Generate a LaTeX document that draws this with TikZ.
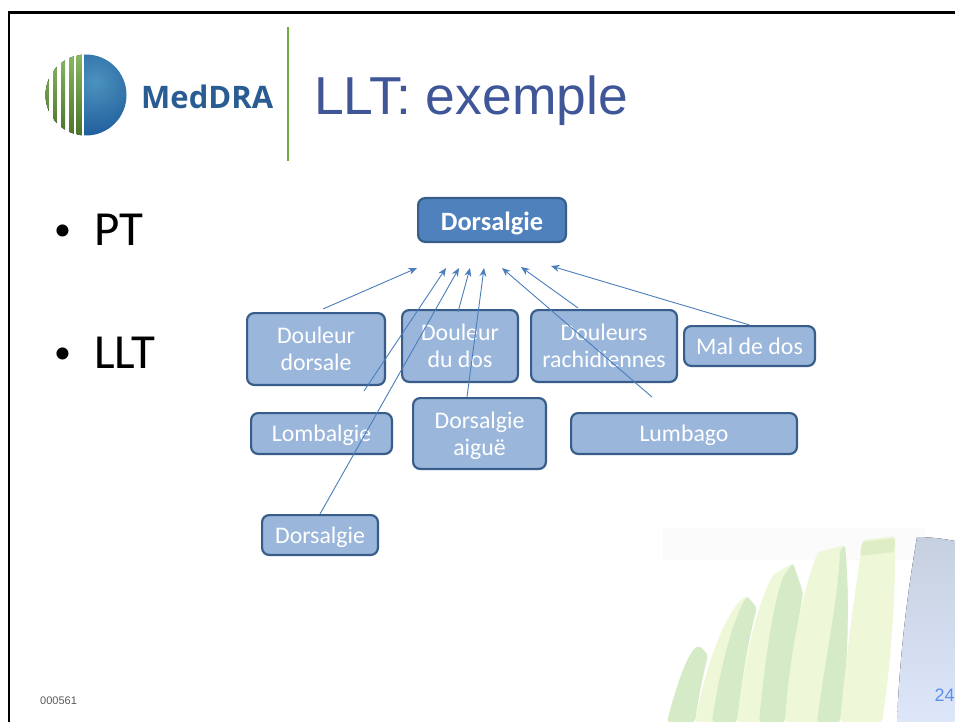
\documentclass[tikz,border=0pt]{standalone}
\usepackage{fontspec}
\setmainfont{Carlito}
\newfontfamily\arialf{Liberation Sans}
\newfontfamily\logof{Open Sans}
\usetikzlibrary{arrows.meta}
\definecolor{boxlight}{HTML}{9AB6DB}
\definecolor{boxdark}{HTML}{4F81BD}
\definecolor{boxline}{HTML}{385D8A}
\definecolor{arrowc}{HTML}{4A7EBB}
\definecolor{stripeA}{HTML}{EEF8D8}
\definecolor{stripeB}{HTML}{D5EBC8}
\definecolor{stripeC}{HTML}{DFEDC4}
\definecolor{titleblue}{HTML}{3F5699}
\definecolor{logogreen}{HTML}{6FAB3E}
\definecolor{logotextc}{HTML}{2A5C94}
\definecolor{numblue}{HTML}{5B8FF0}
\definecolor{panelTop}{HTML}{C6D0E0}
\definecolor{panelBot}{HTML}{DEE6FA}
\definecolor{orbIn}{HTML}{4C92BE}
\definecolor{orbOut}{HTML}{1D5A9A}
\tikzset{
  termbox/.style={draw=boxline,line width=2.2pt,fill=boxlight,rounded corners=7pt,text=white,
    inner sep=0pt,align=center,font=\fontsize{23.8}{27}\selectfont,anchor=center},
  headbox/.style={termbox,fill=boxdark,font=\fontsize{26.4}{29}\selectfont\bfseries},
  link/.style={draw=arrowc,line width=0.9pt,-{Stealth[length=8.5pt,width=7pt]}},
  bigword/.style={font=\fontsize{49}{52}\selectfont,anchor=base west,inner sep=0pt},
  dot/.style={font=\fontsize{34}{36}\selectfont,anchor=base west,inner sep=0pt}
}
\newcommand{\tbox}[6]{\node[#1,minimum width=#4pt-#2pt-2.2pt,minimum height=#5pt-#3pt-2.2pt,text depth=0pt] at ({(#2+#4)/2},{(#3+#5)/2}) #6;}
\begin{document}
\begin{tikzpicture}[x=1pt,y=-1pt]
\useasboundingbox (0,0) rectangle (955,722);
\fill[white] (0,0) rectangle (955,722);
% background decoration
\fill[white!98.5!black] (663,528) rectangle (925,560);
\begin{scope}[rounded corners=3pt]
\clip (0,0) rectangle (955,722);
\fill[stripeB] (667,722) .. controls (675,690) and (688,650) .. (700,646) -- (708,655) .. controls (702,680) and (698,700) .. (695,722) -- cycle;
\fill[stripeA] (695,722) .. controls (705,670) and (725,610) .. (747,596) -- (757,608) .. controls (748,640) and (742,680) .. (737,722) -- cycle;
\fill[stripeB] (712,722) .. controls (718,680) and (730,625) .. (747,596) -- (757,608) .. controls (748,640) and (742,680) .. (737,722) -- cycle;
\fill[stripeA] (737,722) .. controls (745,660) and (755,610) .. (773,575) -- (793,563) -- (803,593) .. controls (795,640) and (790,680) .. (785,722) -- cycle;
\fill[stripeB] (759,722) .. controls (765,660) and (772,610) .. (783,577) -- (793,563) -- (803,593) .. controls (795,640) and (790,680) .. (785,722) -- cycle;
\fill[stripeA] (785,722) .. controls (790,650) and (803,590) .. (818,552) -- (845,545) .. controls (850,600) and (848,670) .. (840,722) -- cycle;
\fill[stripeB] (817,722) .. controls (825,660) and (838,600) .. (840,550) -- (845,545) .. controls (850,600) and (848,670) .. (840,722) -- cycle;
\fill[stripeA] (840,722) .. controls (847,650) and (855,590) .. (863,540) -- (895,536) .. controls (896,600) and (890,670) .. (882,722) -- cycle;
\fill[stripeC] (862,542) -- (895,538) -- (894.5,552) -- (860,556) -- cycle;
\end{scope}
\fill[top color=panelTop,bottom color=panelBot] (897,722) .. controls (900,650) and (908,590) .. (917,537) .. controls (930,537) and (945,539) .. (955,541) -- (955,722) -- cycle;
% frame
\draw[black,line width=2.6pt] (960,12.5) -- (9,12.5) -- (9,730);
% logo
\begin{scope}
\clip (86,95) circle[radius=40.5];
\begin{scope}
\clip (84,50) rectangle (130,140);
\shade[inner color=orbIn,outer color=orbOut,shading=radial] (95,82) circle[radius=58];
\end{scope}
\foreach \xa/\xb in {45/48.5,53.5/56.5,61/65,69/73.5,76.5/81.5}{
  \fill[top color=logogreen!80!white,bottom color=logogreen!65!black] (\xa,50) rectangle (\xb,140);
}
\end{scope}
\node[font=\logof\bfseries\fontsize{31}{33}\selectfont,text=logotextc,anchor=base west,inner sep=0pt] (logotext) at (141,109) {MedDRA};
\coordinate (ruleTop) at (288,27);
\coordinate (ruleBot) at (288,161);
\draw[logogreen,line width=1.4pt] (ruleTop) -- (ruleBot);
\node[font=\arialf\fontsize{53.4}{56}\selectfont,text=titleblue,anchor=base west,inner sep=0pt] (title) at (314,115) {LLT: exemple};
% bullets
\node[dot] (b1) at (54,240.5) {•};
\node[bigword] (pt) at (94,245) {PT};
\node[dot] (b2) at (54,363.5) {•};
\node[bigword] (llt) at (94,368) {LLT};
% boxes
\tbox{headbox}{417}{197}{567}{243}{(top) {\raisebox{-2pt}{Dorsalgie}}}
\tbox{termbox}{246}{312}{386}{386}{(dd) {Douleur\\dorsale}}
\tbox{termbox}{401}{309}{519}{383}{(ddos) {Douleur\\du dos}}
\tbox{termbox}{530}{309}{678}{383}{(rach) {Douleurs\\rachidiennes}}
\tbox{termbox}{683}{325}{816}{367}{(mal) {Mal de dos}}
\tbox{termbox}{250}{412}{393}{455}{(lomb) {Lombalgie}}
\tbox{termbox}{412}{397}{547}{470}{(aig) {Dorsalgie\\aiguë}}
\tbox{termbox}{570}{412}{798}{455}{(lumb) {Lumbago}}
\tbox{termbox}{261}{514}{379}{556}{(dors) {Dorsalgie}}
% arrow ends
\coordinate (h1) at (417,268);
\coordinate (h2) at (446,268);
\coordinate (h3) at (459,268);
\coordinate (h4) at (470,268);
\coordinate (h5) at (484,268);
\coordinate (h6) at (502,268);
\coordinate (h7) at (521,267);
\coordinate (h8) at (551,266);
\coordinate (t1) at (323,309);
\coordinate (t2) at (364,391);
\coordinate (t4) at (458,312);
\coordinate (t5) at (467,397);
\coordinate (t6) at (652,397);
\coordinate (t7) at (578,308);
\draw[link] (t1) -- (h1);
\draw[link] (t2) -- (h2);
\draw[link] (dors.north) -- (h3);
\draw[link] (t4) -- (h4);
\draw[link] (t5) -- (h5);
\draw[link] (t6) -- (h6);
\draw[link] (t7) -- (h7);
\draw[link] (mal.north) -- (h8);
% footer
\node[font=\arialf\fontsize{11}{13}\selectfont,text=black!65,anchor=base west,inner sep=0pt] (ref) at (40,704) {000561};
\node[font=\arialf\fontsize{18}{20}\selectfont,text=numblue,anchor=base west,inner sep=0pt] (num) at (934.5,701) {24};
\end{tikzpicture}
\end{document}
